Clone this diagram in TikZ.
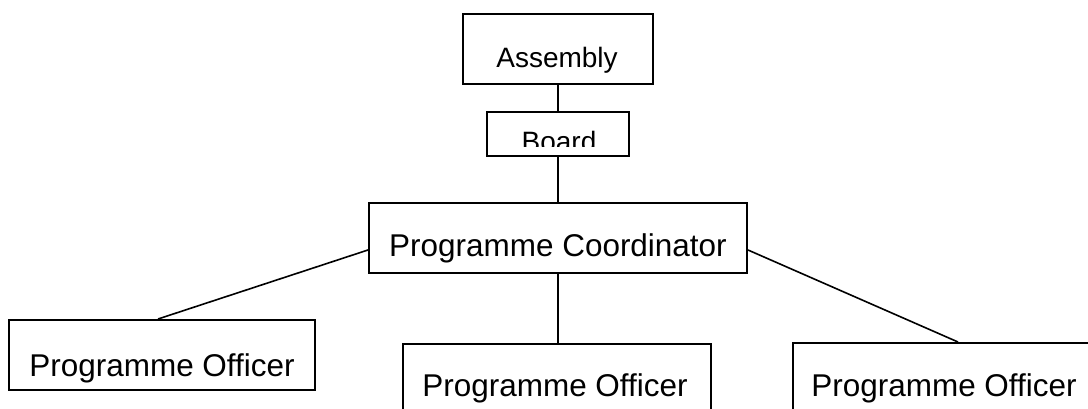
\documentclass[tikz,border=0pt]{standalone}
\usepackage{fontspec}
\setmainfont{Liberation Sans}
\usetikzlibrary{calc}
\begin{document}
\begin{tikzpicture}[x=0.75pt,y=-0.75pt,
  box/.style={draw,line width=1.5pt,inner sep=0pt,minimum height=52.5pt},
  big/.style={font=\fontsize{23.6}{27}\selectfont,anchor=base,inner sep=0pt},
  small/.style={font=\fontsize{21}{25}\selectfont,anchor=base,inner sep=0pt},
  link/.style={line width=1.2pt}]
\useasboundingbox (0,0) rectangle (1088,409);
\clip (0,0) rectangle (1088,409);
\fill[white] (0,0) rectangle (1088,409);
% boxes
\node[box,minimum width=142.5pt] (asm) at (558,49) {};
\node[box,minimum width=106.5pt,minimum height=33pt] (brd) at (558,134) {};
\node[box,minimum width=283.5pt] (crd) at (558,238) {};
\node[box,minimum width=229.5pt] (po1) at (162,355) {};
\node[box,minimum width=231pt] (po2) at (557,379) {};
\node[box,minimum width=234pt] (po3) at (949,378) {};
% texts
\node[small] (tasm) at (557,68) {Assembly};
\begin{scope}
\clip (480,112) rectangle (640,147);
\node[small] (tbrd) at (559,152) {Board};
\end{scope}
\node[big] (tcrd) at (558,257) {Programme Coordinator};
\node[big] (tpo1) at (162,376) {Programme Officer};
\node[big] (tpo2) at (555,396) {Programme Officer};
\node[big] (tpo3) at (944,396) {Programme Officer};
% connectors
\draw[link] (asm.south) -- (brd.north);
\draw[link] (brd.south) -- (crd.north);
\draw[link] ($(crd.west)+(0,12)$) -- ($(po1.north)+(-4,0)$);
\draw[link] (crd.south) -- (crd.south |- po2.north);
\draw[link] ($(crd.east)+(0,12)$) -- ($(po3.north)+(9,0)$);
\end{tikzpicture}
\end{document}
